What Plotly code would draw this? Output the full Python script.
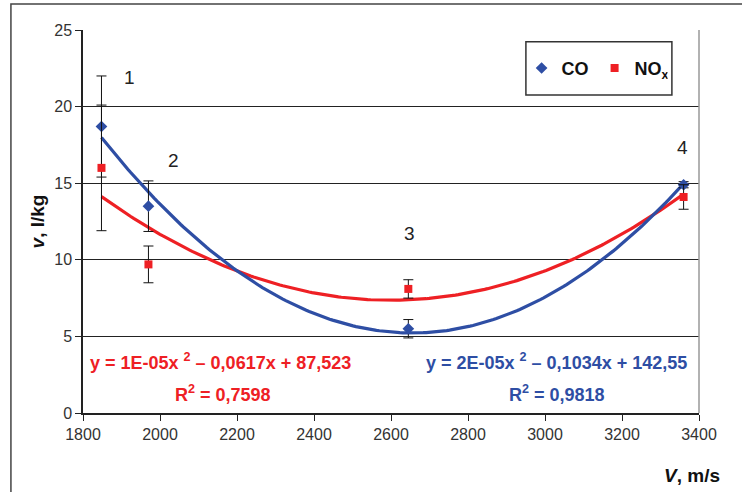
import numpy as np
import plotly.graph_objects as go

# Data
speed = [1848, 1970, 2645, 3360]           # V, m/s
co_vals = [18.7, 13.5, 5.5, 14.9]          # CO, l/kg
co_err = [3.3, 1.65, 0.6, 0.2]
nox_vals = [16.0, 9.7, 8.1, 14.1]          # NOx, l/kg
nox_err = [4.1, 1.2, 0.6, 0.8]
point_labels = ["1", "2", "3", "4"]
label_x = [1922, 2036, 2647, 3356]
label_y = [21.9, 16.5, 11.7, 17.35]

RED = "#ee2024"
BLUE = "#2e4ea4"
FONT = "Liberation Sans, Arial, sans-serif"

# quadratic trendlines fitted to the data (as Excel does)
xs = np.linspace(min(speed), max(speed), 200)
co_fit = np.polyval(np.polyfit(speed, co_vals, 2), xs)
nox_fit = np.polyval(np.polyfit(speed, nox_vals, 2), xs)

fig = go.Figure()
fig.add_trace(go.Scatter(x=xs, y=nox_fit, mode="lines", line=dict(color=RED, width=3.2),
                         showlegend=False, hoverinfo="skip"))
fig.add_trace(go.Scatter(x=xs, y=co_fit, mode="lines", line=dict(color=BLUE, width=3.2),
                         showlegend=False, hoverinfo="skip"))
fig.add_trace(go.Scatter(x=speed, y=co_vals, mode="markers", name="CO",
                         marker=dict(symbol="diamond", size=9, color=BLUE),
                         error_y=dict(type="data", array=co_err, color="#111", thickness=1, width=5)))
fig.add_trace(go.Scatter(x=speed, y=nox_vals, mode="markers", name="NO<sub>x</sub>",
                         marker=dict(symbol="square", size=8, color=RED),
                         error_y=dict(type="data", array=nox_err, color="#111", thickness=1, width=5)))

for lx, ly, t in zip(label_x, label_y, point_labels):
    fig.add_annotation(x=lx, y=ly, text=t, showarrow=False,
                       font=dict(family=FONT, size=19, color="#222"), xanchor="center")

eq_font_red = dict(family=FONT, size=18, color=RED)
eq_font_blue = dict(family=FONT, size=18, color=BLUE)
fig.add_annotation(x=2156, y=3.35, text="<b>y = 1E-05x <sup>2</sup> – 0,0617x + 87,523</b>",
                   showarrow=False, font=eq_font_red)
fig.add_annotation(x=2163, y=1.3, text="<b>R<sup>2</sup> = 0,7598</b>", showarrow=False, font=eq_font_red)
fig.add_annotation(x=3031, y=3.35, text="<b>y = 2E-05x <sup>2</sup> – 0,1034x + 142,55</b>",
                   showarrow=False, font=eq_font_blue)
fig.add_annotation(x=3031, y=1.3, text="<b>R<sup>2</sup> = 0,9818</b>", showarrow=False, font=eq_font_blue)
fig.add_annotation(xref="paper", yref="paper", x=1.037, y=-0.164, text="<b><i>V</i>, m/s</b>",
                   showarrow=False, xanchor="right", yanchor="middle",
                   font=dict(family=FONT, size=19, color="#111"))

# plot area right border, legend box and outer frame
fig.add_shape(type="line", xref="x domain", yref="y domain", x0=1, x1=1, y0=0, y1=1,
              line=dict(color="#999", width=1.5))
fig.add_shape(type="rect", xref="paper", yref="paper", x0=0.719, x1=0.956, y0=0.830, y1=0.969,
              line=dict(color="#333", width=1.5), fillcolor="white", layer="below")
fig.add_shape(type="rect", xref="paper", yref="paper", x0=-0.117, x1=1.2, y0=-0.5, y1=1.068,
              line=dict(color="#444", width=1.5))

fig.update_layout(
    width=742, height=492,
    margin=dict(l=83, r=43, t=30, b=79),
    paper_bgcolor="white", plot_bgcolor="white",
    font=dict(family=FONT, size=16, color="#333"),
    legend=dict(x=0.712, y=0.9, xanchor="left", yanchor="middle", orientation="h",
                borderwidth=0, bgcolor="rgba(0,0,0,0)",
                font=dict(family=FONT, size=18, color="#111", weight="bold"),
                itemwidth=30, entrywidth=28),
    xaxis=dict(range=[1800, 3400], tickvals=list(range(1800, 3401, 200)), showgrid=False,
               showline=True, linecolor="#222", linewidth=1.5, ticks="outside", ticklen=6,
               tickcolor="#222", zeroline=False),
    yaxis=dict(range=[0, 25], tickvals=[0, 5, 10, 15, 20, 25], showgrid=True, gridcolor="#222",
               gridwidth=1, showline=True, linecolor="#222", linewidth=1.5, ticks="outside",
               ticklen=6, tickcolor="#222", zeroline=False,
               title=dict(text="<b><i>v</i>, l/kg</b>", font=dict(size=19, color="#111"), standoff=5)),
)

fig.write_html("out.html")
